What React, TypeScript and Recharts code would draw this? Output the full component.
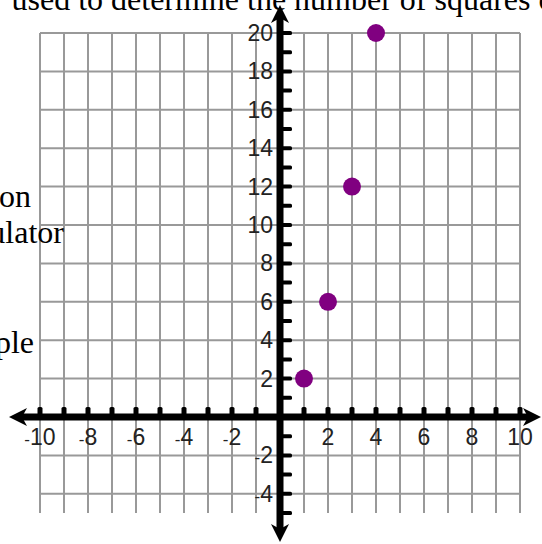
import React from "react";
import {
  ScatterChart,
  Scatter,
  XAxis,
  YAxis,
  CartesianGrid,
  ReferenceLine,
  ReferenceDot,
} from "recharts";

// squares: x -> number of squares
const xValues = [1, 2, 3, 4];
const yValues = [2, 6, 12, 20];

const xTicks = [-10, -9, -8, -7, -6, -5, -4, -3, -2, -1, 0, 1, 2, 3, 4, 5, 6, 7, 8, 9, 10];
const yTicks = [-5, -4, -3, -2, -1, 0, 1, 2, 3, 4, 5, 6, 7, 8, 9, 10, 11, 12, 13, 14, 15, 16, 17, 18, 19, 20];
const xLabels = [-10, -8, -6, -4, -2, 2, 4, 6, 8, 10];
const yLabels = [-4, -2, 2, 4, 6, 8, 10, 12, 14, 16, 18, 20];

const points = xValues.map((x, i) => ({ x, y: yValues[i] }));

const labelFont = "'Liberation Sans', Arial, sans-serif";
const labelColor = "#222";

const HAxis = (p: any) => {
  const left = Math.min(p.x1, p.x2) - 31;
  const right = Math.max(p.x1, p.x2) + 21;
  const y = p.y1;
  return (
    <g>
      <line x1={left + 10} y1={y} x2={right - 10} y2={y} stroke="#000" strokeWidth={7} />
      <polygon points={`${left},${y} ${left + 18},${y - 9} ${left + 13},${y} ${left + 18},${y + 9}`} fill="#000" />
      <polygon points={`${right},${y} ${right - 18},${y - 9} ${right - 13},${y} ${right - 18},${y + 9}`} fill="#000" />
    </g>
  );
};

const VAxis = (p: any) => {
  const top = Math.min(p.y1, p.y2) - 28;
  const bottom = Math.max(p.y1, p.y2) + 29;
  const x = p.x1;
  return (
    <g>
      <line x1={x} y1={top + 10} x2={x} y2={bottom - 10} stroke="#000" strokeWidth={7} />
      <polygon points={`${x},${top} ${x - 9},${top + 18} ${x},${top + 13} ${x + 9},${top + 18}`} fill="#000" />
      <polygon points={`${x},${bottom} ${x - 9},${bottom - 18} ${x},${bottom - 13} ${x + 9},${bottom - 18}`} fill="#000" />
    </g>
  );
};

const XTickMark = (p: any) => (
  <rect x={p.cx - 2.5} y={p.cy - 10} width={5} height={10} rx={1.5} fill="#000" />
);

const YTickMark = (p: any) => (
  <rect x={p.cx} y={p.cy - 2} width={12} height={4} rx={1.5} fill="#000" />
);

const label = (v: number) =>
  v < 0 ? (
    <>
      <tspan fontSize={17}>-</tspan>
      {String(-v)}
    </>
  ) : (
    String(v)
  );

const XLabel = (v: number) => (p: any) => (
  <text x={p.cx} y={p.cy + 28} textAnchor="middle" fontFamily={labelFont} fontSize={23} fill={labelColor}>
    {label(v)}
  </text>
);

const YLabel = (v: number) => (p: any) => (
  <text x={p.cx - 7} y={p.cy + 8} textAnchor="end" fontFamily={labelFont} fontSize={23} fill={labelColor}>
    {label(v)}
  </text>
);

const Dot = (p: any) => <circle cx={p.cx} cy={p.cy} r={9} fill="#800080" />;

const App: React.FC = () => {
  return (
    <div style={{ position: "absolute", left: 0, top: 0, width: 542, height: 544, background: "#fff" }}>
      <ScatterChart width={542} height={544} margin={{ top: 33, right: 22, bottom: 31, left: 40 }}>
        <XAxis type="number" dataKey="x" domain={[-10, 10]} ticks={xTicks} hide />
        <YAxis type="number" dataKey="y" domain={[-5, 20]} ticks={yTicks} hide />
        <CartesianGrid
          stroke="#999"
          strokeWidth={2}
          strokeOpacity={1}
          horizontalValues={yTicks}
          verticalValues={xTicks}
        />
        <ReferenceLine y={0} shape={HAxis} />
        <ReferenceLine x={0} shape={VAxis} />
        {xTicks
          .filter((v) => v !== 0)
          .map((v) => (
            <ReferenceDot key={"xt" + v} x={v} y={0} shape={XTickMark} />
          ))}
        {yTicks
          .filter((v) => v !== 0)
          .map((v) => (
            <ReferenceDot key={"yt" + v} x={0} y={v} shape={YTickMark} />
          ))}
        {xLabels.map((v) => (
          <ReferenceDot key={"xl" + v} x={v} y={0} shape={XLabel(v)} />
        ))}
        {yLabels.map((v) => (
          <ReferenceDot key={"yl" + v} x={0} y={v} shape={YLabel(v)} />
        ))}
        <Scatter data={points} shape={Dot} isAnimationActive={false} />
      </ScatterChart>
      <svg
        width={542}
        height={544}
        style={{ position: "absolute", left: 0, top: 0, pointerEvents: "none" }}
        fontFamily="'Liberation Serif', 'Times New Roman', serif"
        fontSize={32}
        fill="#000"
      >
        <text x={11.5} y={10}>used to determine the number of squares c</text>
        <text x={31} y={207} textAnchor="end">on</text>
        <text x={64} y={243} textAnchor="end">ulator</text>
        <text x={34} y={353} textAnchor="end">ple</text>
      </svg>
    </div>
  );
};

export default App;
